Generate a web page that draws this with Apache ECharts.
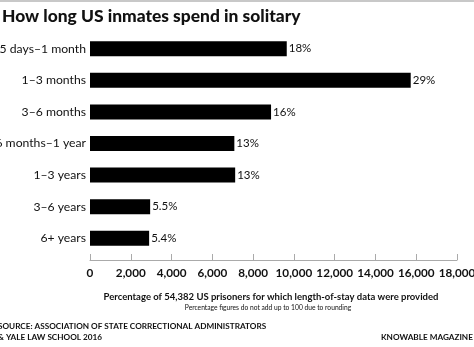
<!DOCTYPE html>
<html><head><meta charset="utf-8">
<script src="https://cdn.jsdelivr.net/npm/echarts@6/dist/echarts.min.js"></script>
<style>html,body{margin:0;padding:0;background:#fff}#c{width:474px;height:347px}</style>
</head><body><div id="c"></div>
<script>
const categories = ["15 days\u20131 month","1\u20133 months","3\u20136 months","6 months\u20131 year","1\u20133 years","3\u20136 years","6+ years"];
const prisoners = [9650, 15730, 8880, 7080, 7120, 2950, 2900];
const percentLabels = ["18%","29%","16%","13%","13%","5.5%","5.4%"];
const xTicks = [0,2000,4000,6000,8000,10000,12000,14000,16000,18000];

const FONT = 'Lato, "Noto Sans", sans-serif';
const chart = echarts.init(document.getElementById('c'), null, {renderer:'canvas'});
chart.setOption({
  animation:false,
  backgroundColor:'#fff',
  grid:{left:90,right:17,top:33,bottom:93,containLabel:false,outerBoundsMode:'none'},
  xAxis:{
    type:'value', min:xTicks[0], max:xTicks[xTicks.length-1], interval:2000, offset:6,
    axisLine:{show:true,lineStyle:{color:'#aaa',width:1}},
    axisTick:{show:true,inside:true,length:6,lineStyle:{color:'#aaa'}},
    splitLine:{show:false},
    axisLabel:{margin:7,color:'#111',fontFamily:FONT,fontSize:11.7,fontWeight:'bold',
      showMinLabel:true,showMaxLabel:true,hideOverlap:false,
      formatter:v=>v.toLocaleString('en-US')}
  },
  yAxis:{
    type:'category', data:categories, inverse:true,
    axisLine:{show:false}, axisTick:{show:false},
    axisLabel:{margin:4,color:'#111',fontFamily:FONT,fontSize:12.2,fontWeight:'normal'}
  },
  series:[{
    type:'bar', data:prisoners, barWidth:15, itemStyle:{color:'#000'},
    label:{show:true,position:'right',distance:2,color:'#111',fontFamily:FONT,fontSize:11.5,fontWeight:'normal',
      formatter:p=>percentLabels[p.dataIndex]}
  }],
  graphic:[
    {type:'rect',shape:{x:0,y:0,width:474,height:2},style:{fill:'#c8c8c8'}},
    {type:'text',left:2,top:8,style:{text:'How long US inmates spend in solitary',font:'900 17.4px '+FONT,fill:'#111'}},
    {type:'text',x:271,y:297,style:{text:'Percentage of 54,382 US prisoners for which length-of-stay data were provided',font:'bold 9.5px '+FONT,fill:'#111',align:'center',verticalAlign:'middle'}},
    {type:'text',x:268,y:308,style:{text:'Percentage figures do not add up to 100 due to rounding',font:'6.7px '+FONT,fill:'#111',align:'center',verticalAlign:'middle'}},
    {type:'text',x:-2,y:326,style:{text:'SOURCE: ASSOCIATION OF STATE CORRECTIONAL ADMINISTRATORS',font:'bold 8.2px '+FONT,fill:'#111',verticalAlign:'middle'}},
    {type:'text',x:-2,y:337,style:{text:'& YALE LAW SCHOOL 2016',font:'bold 8.2px '+FONT,fill:'#111',verticalAlign:'middle'}},
    {type:'text',x:381,y:337,style:{text:'KNOWABLE MAGAZINE',font:'bold 8.2px '+FONT,fill:'#111',verticalAlign:'middle'}}
  ]
});
</script></body></html>
